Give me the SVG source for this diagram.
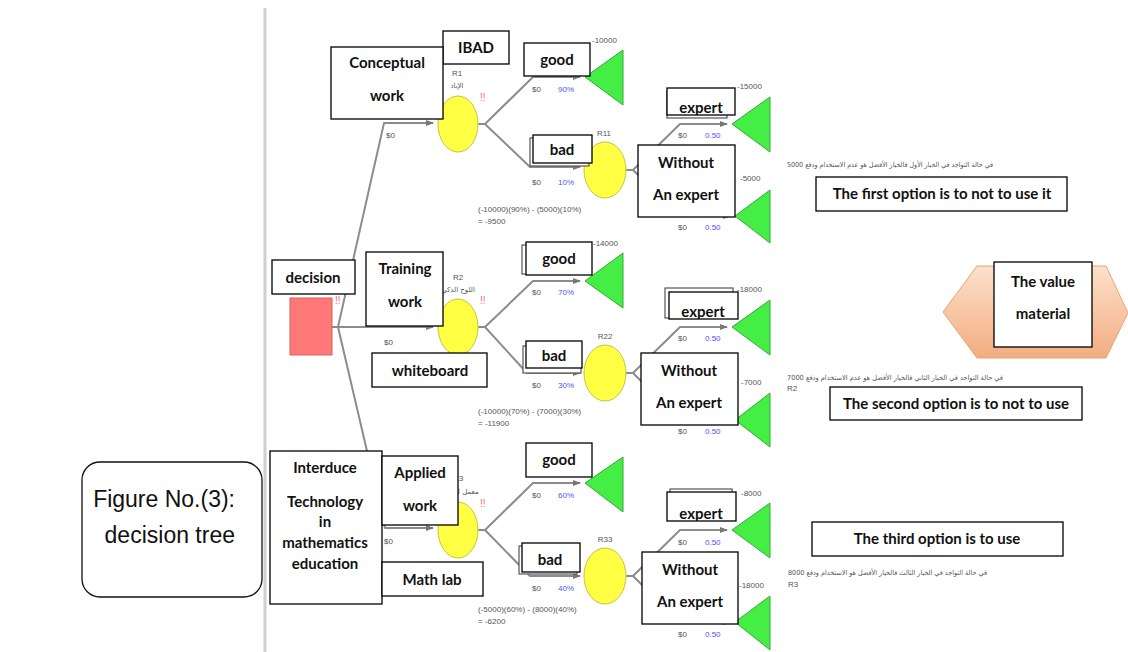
<svg xmlns="http://www.w3.org/2000/svg" width="1128" height="652" viewBox="0 0 1128 652">
<defs>
<style>
.box{fill:#fff;stroke:#000;stroke-width:1.3}
.bk{fill:#fff;stroke:#555;stroke-width:1.2}
.lbl{font-family:Lato,"Open Sans",sans-serif;font-weight:bold;font-size:15px;text-anchor:middle;fill:#111}
.opt{font-family:Lato,"Open Sans",sans-serif;font-weight:bold;font-size:15px;text-anchor:middle;fill:#111}
.val{font-family:"Liberation Sans",Arial,sans-serif;font-size:8px;fill:#555}
.pct{font-family:"Liberation Sans",Arial,sans-serif;font-size:8px;fill:#5050ff}
.rl{font-family:"Liberation Sans",Arial,sans-serif;font-size:8px;fill:#555;text-anchor:middle}
.ar{font-family:"DejaVu Sans","Noto Sans",sans-serif;font-size:7px;fill:#555}
.bang{font-family:"Liberation Sans",Arial,sans-serif;font-size:10px;fill:#ff6a6a}
.edge{stroke:#8c8c8c;stroke-width:2;fill:none;stroke-linejoin:round}
.chance{fill:#ffff44;stroke:#c4c43c;stroke-width:1}
.term{fill:#44ee44;stroke:#38a838;stroke-width:1}
.fig{font-family:"Liberation Sans",Arial,sans-serif;font-size:23px;fill:#111;text-anchor:end}
</style>
<marker id="arr" markerUnits="userSpaceOnUse" markerWidth="8" markerHeight="6" refX="7" refY="3" orient="auto">
<path d="M0,0 L8,3 L0,6 z" fill="#777"/>
</marker>
<linearGradient id="hex" x1="0" y1="0" x2="0" y2="1">
<stop offset="0" stop-color="#fde0cb"/>
<stop offset="1" stop-color="#f2ad80"/>
</linearGradient>
<clipPath id="c1"><rect x="667" y="88" width="68" height="27"/></clipPath>
<clipPath id="c2"><rect x="669" y="292" width="69" height="27"/></clipPath>
<clipPath id="c3"><rect x="667" y="492" width="69" height="29"/></clipPath>
</defs>
<rect width="1128" height="652" fill="#fff"/>
<line x1="265" y1="8" x2="265" y2="652" stroke="#d0d0d0" stroke-width="3"/>

<g id="connectors">
<path class="edge" marker-end="url(#arr)" d="M338,327 L384,123 L433,123"/>
<path class="edge" marker-end="url(#arr)" d="M332,327 L433,327"/>
<path class="edge" marker-end="url(#arr)" d="M338,327 L385,528 L433,528"/>
<path class="edge" marker-end="url(#arr)" d="M478,124 L485,124 L533,77 L580,77"/>
<path class="edge" marker-end="url(#arr)" d="M485,124 L530,167 L580,167"/>
<path class="edge" marker-end="url(#arr)" d="M626,170 L633,170 L680,124 L727,124"/>
<path class="edge" marker-end="url(#arr)" d="M633,170 L680,216 L730,216"/>
<path class="edge" marker-end="url(#arr)" d="M478,327 L485,327 L533,281 L580,281"/>
<path class="edge" marker-end="url(#arr)" d="M485,327 L527,373 L580,373"/>
<path class="edge" marker-end="url(#arr)" d="M626,373 L633,373 L680,327 L727,327"/>
<path class="edge" marker-end="url(#arr)" d="M633,373 L680,420 L730,420"/>
<path class="edge" marker-end="url(#arr)" d="M478,530 L485,530 L533,483 L580,483"/>
<path class="edge" marker-end="url(#arr)" d="M485,530 L530,576 L580,576"/>
<path class="edge" marker-end="url(#arr)" d="M626,576 L633,576 L680,530 L727,530"/>
<path class="edge" marker-end="url(#arr)" d="M633,576 L680,622 L730,622"/>
</g>

<g id="edge-values">
<text class="val" x="386" y="138">$0</text>
<text class="val" x="384" y="345">$0</text>
<text class="val" x="384" y="544">$0</text>
<text class="val" x="532" y="92">$0</text><text class="pct" x="558" y="92">90%</text>
<text class="val" x="532" y="185">$0</text><text class="pct" x="558" y="185">10%</text>
<text class="val" x="678" y="138">$0</text><text class="pct" x="705" y="138">0.50</text>
<text class="val" x="678" y="230">$0</text><text class="pct" x="705" y="230">0.50</text>
<text class="val" x="532" y="295">$0</text><text class="pct" x="558" y="295">70%</text>
<text class="val" x="532" y="388">$0</text><text class="pct" x="558" y="388">30%</text>
<text class="val" x="678" y="341">$0</text><text class="pct" x="705" y="341">0.50</text>
<text class="val" x="678" y="434">$0</text><text class="pct" x="705" y="434">0.50</text>
<text class="val" x="532" y="498">$0</text><text class="pct" x="558" y="498">60%</text>
<text class="val" x="532" y="591">$0</text><text class="pct" x="558" y="591">40%</text>
<text class="val" x="678" y="545">$0</text><text class="pct" x="705" y="545">0.50</text>
<text class="val" x="678" y="637">$0</text><text class="pct" x="705" y="637">0.50</text>
</g>

<g id="decision-node">
<rect x="290" y="298" width="42" height="57" fill="#ff7777" stroke="#d86060" stroke-width="1"/>
<text class="bang" x="335" y="304">!!</text>
</g>

<g id="chance-R1">
<ellipse class="chance" cx="458" cy="124" rx="20" ry="28"/>
<text class="rl" x="457" y="76">R1</text>
<text class="ar" x="457" y="88" text-anchor="middle">الإباد</text>
<text class="bang" x="480" y="101">!!</text>
<text class="val" x="478" y="212">(-10000)(90%) - (5000)(10%)</text>
<text class="val" x="478" y="224">= -9500</text>
</g>
<g id="chance-R11">
<ellipse class="chance" cx="605" cy="170" rx="21" ry="28"/>
<text class="rl" x="604" y="136">R11</text>
</g>
<g id="chance-R2">
<ellipse class="chance" cx="458" cy="327" rx="20" ry="28"/>
<text class="rl" x="458" y="280">R2</text>
<text class="ar" x="458" y="292" text-anchor="middle">اللوح الذكي</text>
<text class="bang" x="480" y="304">!!</text>
<text class="val" x="478" y="414">(-10000)(70%) - (7000)(30%)</text>
<text class="val" x="478" y="426">= -11900</text>
</g>
<g id="chance-R22">
<ellipse class="chance" cx="605" cy="373" rx="21" ry="28"/>
<text class="rl" x="605" y="339">R22</text>
</g>
<g id="chance-R3">
<ellipse class="chance" cx="458" cy="530" rx="20" ry="28"/>
<text class="rl" x="458" y="481">R3</text>
<text class="ar" x="455" y="494" text-anchor="middle">معمل الرياضيات</text>
<text class="bang" x="480" y="507">!!</text>
<text class="val" x="478" y="612">(-5000)(60%) - (8000)(40%)</text>
<text class="val" x="478" y="624">= -6200</text>
</g>
<g id="chance-R33">
<ellipse class="chance" cx="605" cy="576" rx="21" ry="28"/>
<text class="rl" x="605" y="542">R33</text>
</g>

<g id="terminals">
<polygon class="term" points="585,77 623,50 623,105"/>
<polygon class="term" points="732,124 770,97 770,152"/>
<polygon class="term" points="735,216 770,190 770,243"/>
<polygon class="term" points="585,281 623,253 623,308"/>
<polygon class="term" points="732,327 770,300 770,355"/>
<polygon class="term" points="735,420 770,393 770,447"/>
<polygon class="term" points="585,483 623,457 623,512"/>
<polygon class="term" points="732,530 770,503 770,558"/>
<polygon class="term" points="735,622 770,596 770,650"/>
<text class="val" x="592" y="43">-10000</text>
<text class="val" x="737" y="89">-15000</text>
<text class="val" x="740" y="181">-5000</text>
<text class="val" x="593" y="246">-14000</text>
<text class="val" x="737" y="292">-18000</text>
<text class="val" x="741" y="385">-7000</text>
<text class="val" x="741" y="496">-8000</text>
<text class="val" x="739" y="588">-18000</text>
</g>

<g id="label-ibad"><rect class="box" x="443" y="31" width="66" height="33"/><text class="lbl" x="476" y="53">IBAD</text></g>
<g id="label-conceptual"><rect class="box" x="331" y="47" width="112" height="72"/><text class="lbl" x="387" y="68">Conceptual</text><text class="lbl" x="387" y="101">work</text></g>
<g id="label-good1"><rect class="box" x="524" y="43" width="66" height="33"/><text class="lbl" x="557" y="65">good</text></g>
<g id="label-bad1"><rect class="bk" x="530" y="138" width="59" height="28"/><rect class="box" x="533" y="135" width="59" height="28"/><text class="lbl" x="562" y="155">bad</text></g>
<g id="label-expert1"><rect class="bk" x="667" y="91" width="60" height="27"/><rect class="box" x="667" y="88" width="68" height="27"/><text class="lbl" x="701" y="113" clip-path="url(#c1)">expert</text></g>
<g id="label-without1"><rect class="box" x="638" y="145" width="97" height="72"/><text class="lbl" x="686" y="168">Without</text><text class="lbl" x="686" y="200">An expert</text></g>

<g id="label-decision"><rect class="box" x="272" y="260" width="83" height="34"/><text class="lbl" x="313" y="283">decision</text></g>
<g id="label-training"><rect class="box" x="366" y="252" width="77" height="74"/><text class="lbl" x="405" y="274">Training</text><text class="lbl" x="405" y="307">work</text></g>
<g id="label-good2"><rect class="bk" x="522" y="245" width="62" height="29"/><rect class="box" x="526" y="242" width="66" height="33"/><text class="lbl" x="559" y="264">good</text></g>
<g id="label-bad2"><rect class="bk" x="523" y="346" width="58" height="27"/><rect class="box" x="526" y="341" width="56" height="27"/><text class="lbl" x="554" y="361">bad</text></g>
<g id="label-expert2"><rect class="bk" x="665" y="288" width="68" height="30"/><rect class="box" x="669" y="292" width="69" height="27"/><text class="lbl" x="703" y="317" clip-path="url(#c2)">expert</text></g>
<g id="label-without2"><rect class="box" x="641" y="353" width="97" height="72"/><text class="lbl" x="689" y="376">Without</text><text class="lbl" x="689" y="408">An expert</text></g>
<g id="label-whiteboard"><rect class="box" x="372" y="353" width="115" height="34"/><text class="lbl" x="430" y="376">whiteboard</text></g>

<g id="label-interduce"><rect class="box" x="270" y="451" width="112" height="153"/>
<text class="lbl" x="325" y="473">Interduce</text>
<text class="lbl" x="325" y="507">Technology</text>
<text class="lbl" x="325" y="527">in</text>
<text class="lbl" x="325" y="548">mathematics</text>
<text class="lbl" x="325" y="569">education</text></g>
<g id="label-applied"><rect class="box" x="382" y="456" width="76" height="69"/><text class="lbl" x="420" y="478">Applied</text><text class="lbl" x="420" y="511">work</text></g>
<g id="label-mathlab"><rect class="box" x="382" y="562" width="101" height="34"/><text class="lbl" x="432" y="585">Math lab</text></g>
<g id="label-good3"><rect class="box" x="526" y="443" width="66" height="34"/><text class="lbl" x="559" y="465">good</text></g>
<g id="label-bad3"><rect class="bk" x="519" y="546" width="58" height="28"/><rect class="box" x="522" y="543" width="58" height="29"/><text class="lbl" x="550" y="565">bad</text></g>
<g id="label-expert3"><rect class="bk" x="670" y="489" width="62" height="27"/><rect class="box" x="667" y="492" width="69" height="29"/><text class="lbl" x="701" y="519" clip-path="url(#c3)">expert</text></g>
<g id="label-without3"><rect class="box" x="642" y="552" width="96" height="72"/><text class="lbl" x="690" y="575">Without</text><text class="lbl" x="690" y="607">An expert</text></g>

<g id="note-1">
<text class="ar" x="993" y="167" direction="rtl" text-anchor="start" textLength="206" lengthAdjust="spacingAndGlyphs">في حالة التواجد في الخيار الأول فالخيار الأفضل هو عدم الاستخدام ودفع 5000</text>
<rect class="box" x="816" y="177" width="251" height="34"/><text class="opt" x="942" y="199">The first option is to not to use it</text>
</g>
<g id="value-material">
<polygon points="943,312 977,266 1106,266 1128,313 1106,358 977,358" fill="url(#hex)" stroke="#eaa274" stroke-width="1"/>
<rect class="box" x="994" y="262" width="98" height="85"/>
<text class="lbl" x="1043" y="287">The value</text><text class="lbl" x="1043" y="319">material</text>
</g>
<g id="note-2">
<text class="ar" x="1003" y="380" direction="rtl" text-anchor="start" textLength="216" lengthAdjust="spacingAndGlyphs">في حالة التواجد في الخيار الثاني فالخيار الأفضل هو عدم الاستخدام ودفع 7000</text>
<text class="val" x="787" y="391">R2</text>
<rect class="box" x="830" y="387" width="252" height="33"/><text class="opt" x="956" y="409">The second option is to not to use</text>
</g>
<g id="note-3">
<rect class="box" x="812" y="522" width="251" height="34"/><text class="opt" x="937" y="544">The third option is to use</text>
<text class="ar" x="987" y="575" direction="rtl" text-anchor="start" textLength="199" lengthAdjust="spacingAndGlyphs">في حالة التواجد في الخيار الثالث فالخيار الأفضل هو الاستخدام ودفع 8000</text>
<text class="val" x="788" y="587">R3</text>
</g>

<g id="figure-caption">
<rect x="82" y="462" width="180" height="135" rx="18" fill="#fff" stroke="#111" stroke-width="1.3"/>
<text class="fig" x="235" y="507">Figure No.(3):</text>
<text class="fig" x="235" y="543">decision tree</text>
</g>
</svg>
